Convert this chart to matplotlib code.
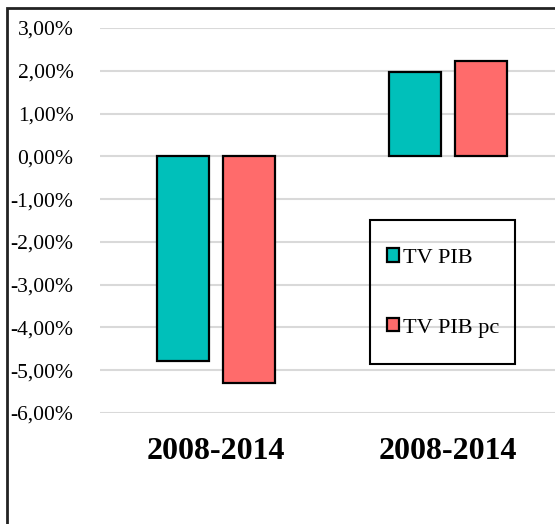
import matplotlib
matplotlib.use("Agg")
import matplotlib.pyplot as plt
from matplotlib.patches import Rectangle
from matplotlib.ticker import FuncFormatter
import numpy as np

# Data (percent)
categories = ["2008-2014", "2008-2014"]
tv_pib = [-4.78, 1.97]
tv_pib_pc = [-5.30, 2.24]
y_ticks = [-6, -5, -4, -3, -2, -1, 0, 1, 2, 3]

teal = "#00c0ba"
red = "#ff6b6b"

plt.rcParams['font.family'] = ['Liberation Serif', 'DejaVu Serif']

fig = plt.figure(figsize=(5.55, 5.24), dpi=100)
ax = fig.add_axes([100 / 555, 111 / 524, 464 / 555, 385 / 524])

x = np.arange(len(categories))
w = 0.224
off = 0.142
ax.bar(x - off, tv_pib, w, color=teal, edgecolor="black", linewidth=1.6,
       label="TV PIB", zorder=3)
ax.bar(x + off, tv_pib_pc, w, color=red, edgecolor="black", linewidth=1.6,
       label="TV PIB pc", zorder=3)

ax.set_xlim(-0.5, 1.5)
ax.set_ylim(-6, 3)
ax.set_yticks(y_ticks)
ax.yaxis.set_major_formatter(FuncFormatter(lambda v, p: f"{v:.2f}%".replace(".", ",")))
ax.grid(axis="y", color="#d9d9d9", linewidth=1.5, zorder=0)
ax.set_axisbelow(True)
for s in ax.spines.values():
    s.set_visible(False)
ax.tick_params(axis="y", length=0, pad=19, labelsize=15.5)
ax.set_xticks(x)
ax.set_xticklabels(categories, fontsize=23, fontweight="bold")
ax.tick_params(axis="x", length=0, pad=17)

# legend without frame, frame drawn separately
leg = fig.legend(loc="center", bbox_to_anchor=(443 / 555, 1 - 293 / 524),
                 frameon=False, fontsize=16, labelspacing=2.25,
                 handlelength=0.55, handleheight=0.55, handletextpad=0.2,
                 borderpad=0)
for h in leg.legend_handles:
    h.set_linewidth(1.6)
fig.add_artist(Rectangle((370 / 555, 1 - 364 / 524), 145 / 555, 144 / 524,
                         transform=fig.transFigure, fill=False,
                         edgecolor="black", linewidth=1.5))

# outer chart border (cropped on right and bottom)
fig.add_artist(Rectangle((7 / 555, -0.1), 1.2, 1.1 - 8 / 524,
                         transform=fig.transFigure, fill=False,
                         edgecolor="#222222", linewidth=2))

fig.savefig("out.png", dpi=100)
